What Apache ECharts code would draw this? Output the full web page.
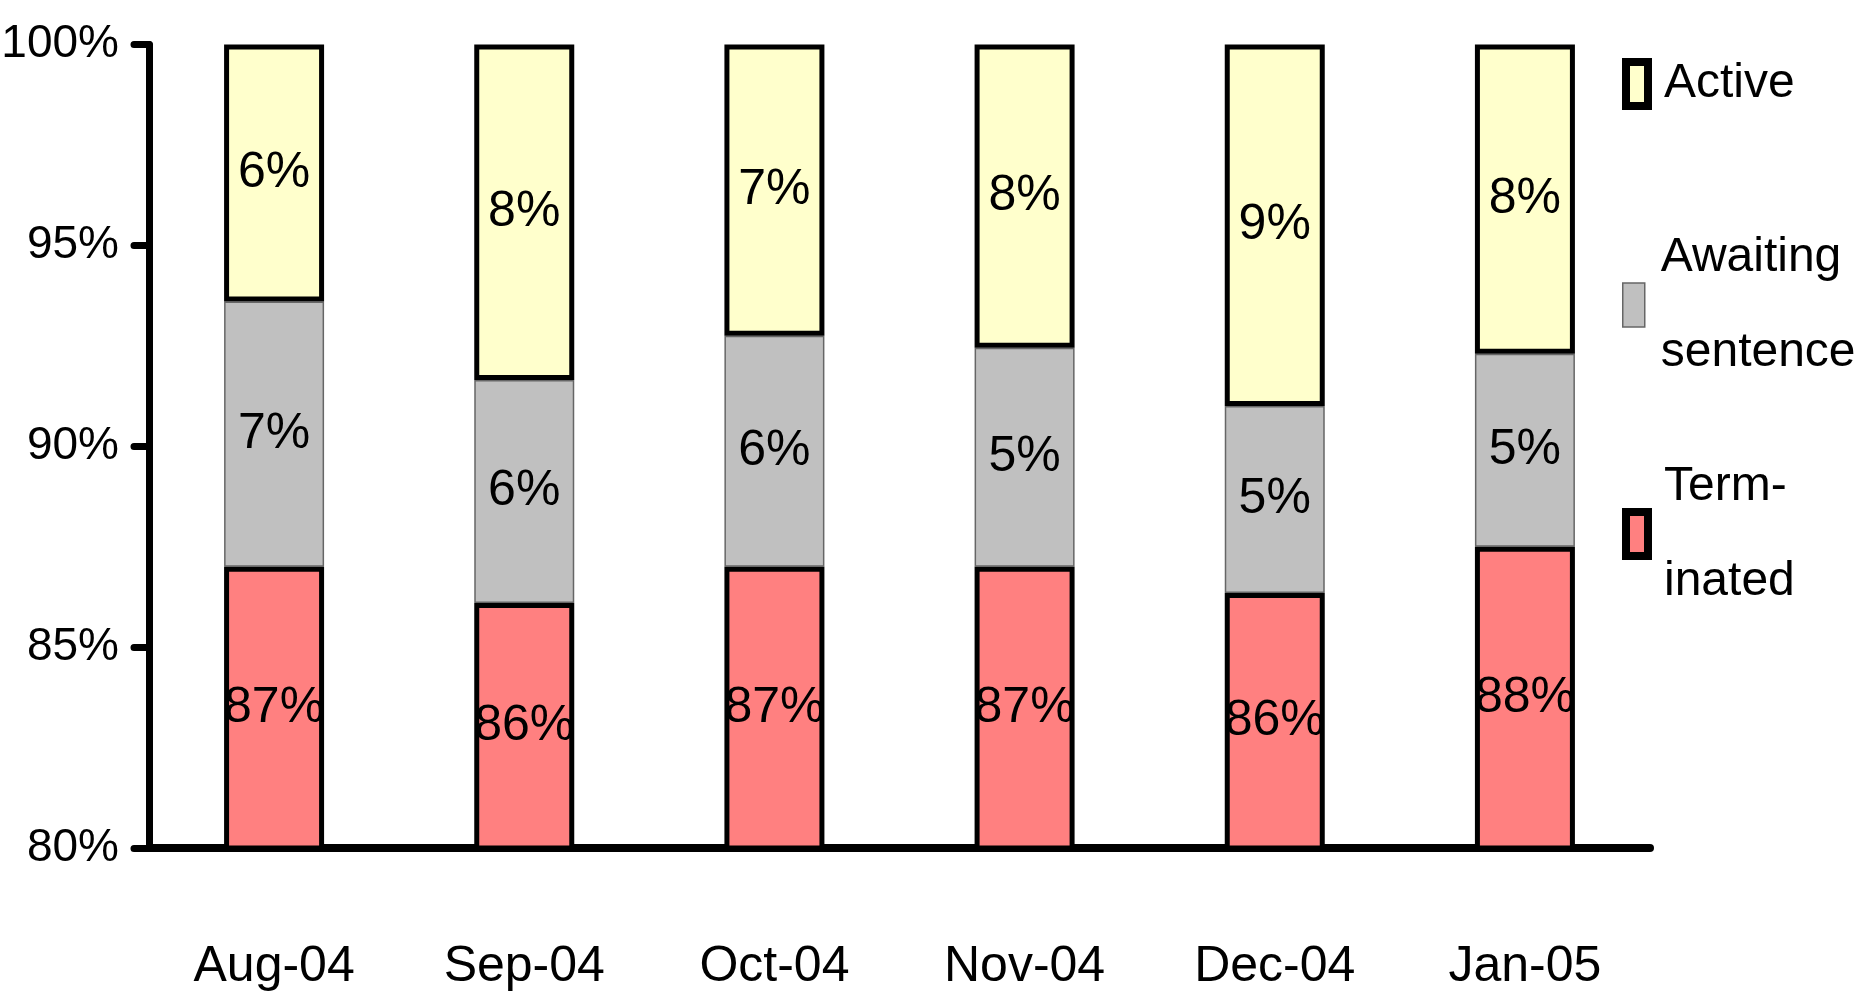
<!DOCTYPE html>
<html>
<head>
<meta charset="utf-8">
<script src="https://cdn.jsdelivr.net/npm/echarts@6/dist/echarts.min.js"></script>
<style>
html,body{margin:0;padding:0;background:#fff;}
#chart{width:1864px;height:1007px;}
</style>
</head>
<body>
<div id="chart"></div>
<script>
const categories = ['Aug-04', 'Sep-04', 'Oct-04', 'Nov-04', 'Dec-04', 'Jan-05'];
const terminated = [87.0, 86.1, 87.0, 87.0, 86.35, 87.5];
const awaiting = [6.6, 5.55, 5.75, 5.45, 4.65, 4.8];
const active = [6.4, 8.35, 7.25, 7.55, 9.0, 7.7];
const yTicks = { min: 80, max: 100, interval: 5 };

const FONT = "'Liberation Sans', Arial, sans-serif";

const chart = echarts.init(document.getElementById('chart'));

function pctLabel(p) { return Math.round(p.value) + '%'; }

const labelCfg = {
  show: true, position: 'inside', formatter: pctLabel,
  color: '#000', fontFamily: FONT, fontSize: 50
};

function legendFor(name, top, twoLine, itemStyle) {
  return {
    data: [name],
    orient: 'vertical',
    left: 1622,
    top: top,
    padding: 0,
    itemWidth: 22,
    itemHeight: 44,
    icon: 'rect',
    itemStyle: itemStyle,
    formatter: function (n) {
      if (n === 'Awaiting sentence') return 'Awaiting\nsentence';
      if (n === 'Terminated') return 'Term-\ninated';
      return n;
    },
    textStyle: {
      fontFamily: FONT, fontSize: 48, color: '#000', lineHeight: 95,
      padding: twoLine ? [95, 0, 0, 11] : [0, 0, 0, 11]
    }
  };
}

chart.setOption({
  animation: false,
  backgroundColor: '#fff',
  grid: { left: 149, right: 214, top: 44.5, bottom: 159, outerBoundsMode: 'none' },
  legend: [
    legendFor('Active', 36.5, false, { borderColor: '#000', borderWidth: 8 }),
    legendFor('Awaiting sentence', 162.5, true, { borderColor: '#666', borderWidth: 1.5 }),
    legendFor('Terminated', 391.5, true, { borderColor: '#000', borderWidth: 8 })
  ],
  xAxis: {
    type: 'category',
    data: categories,
    axisLine: { show: true, lineStyle: { color: '#000', width: 8, cap: 'round' } },
    axisTick: { show: false },
    axisLabel: { color: '#000', fontFamily: FONT, fontSize: 50, margin: 94, interval: 0 },
    splitLine: { show: false }
  },
  yAxis: {
    type: 'value',
    min: yTicks.min, max: yTicks.max, interval: yTicks.interval,
    axisLine: { show: true, lineStyle: { color: '#000', width: 7, cap: 'round' } },
    axisTick: { show: true, inside: false, length: 15, lineStyle: { color: '#000', width: 7, cap: 'round' } },
    axisLabel: { color: '#000', fontFamily: FONT, fontSize: 46, margin: 30, formatter: '{value}%' },
    splitLine: { show: false }
  },
  series: [
    {
      name: 'Terminated', type: 'bar', stack: 'total', data: terminated, barWidth: 100, z: 3,
      itemStyle: { color: '#FF8080', borderColor: '#000', borderWidth: 5 },
      label: labelCfg
    },
    {
      name: 'Awaiting sentence', type: 'bar', stack: 'total', data: awaiting, barWidth: 100, z: 2,
      itemStyle: { color: '#C0C0C0', borderColor: '#666', borderWidth: 1.5 },
      label: labelCfg
    },
    {
      name: 'Active', type: 'bar', stack: 'total', data: active, barWidth: 100, z: 3,
      itemStyle: { color: '#FFFFCC', borderColor: '#000', borderWidth: 5 },
      label: labelCfg
    }
  ]
});
</script>
</body>
</html>
